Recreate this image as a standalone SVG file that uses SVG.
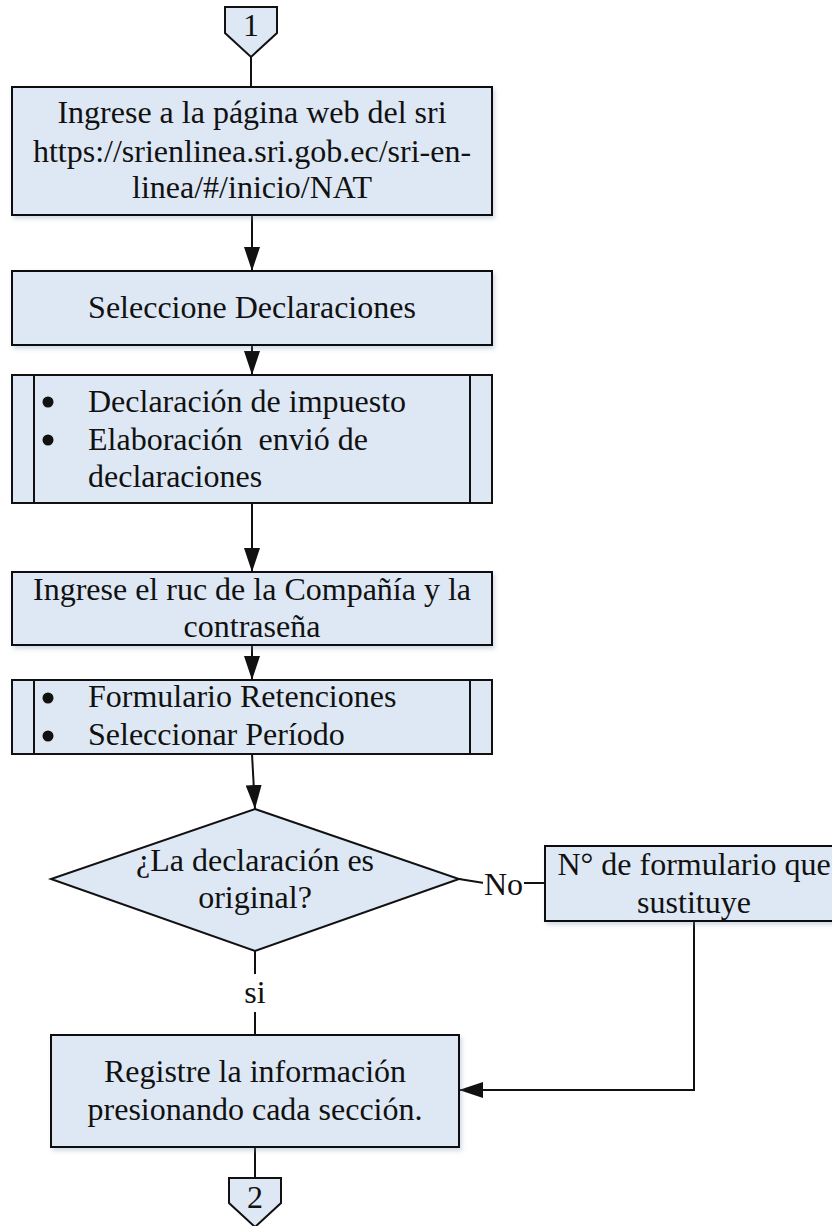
<svg xmlns="http://www.w3.org/2000/svg" width="832" height="1226" viewBox="0 0 832 1226">
  <style>
    .shape { fill: #dee8f4; stroke: #111; stroke-width: 2; }
    .bar { fill: none; stroke: #111; stroke-width: 2; }
    .dot { fill: #111; }
    .label { font-family: "Liberation Serif", "Times New Roman", serif; font-size: 32px; fill: #111; }
    .mid { text-anchor: middle; }
    .wire { fill: none; stroke: #111; stroke-width: 2; }
    .arrow { marker-end: url(#head); }
  </style>
  <defs>
    <marker id="head" viewBox="0 0 24 16" refX="24" refY="8" markerWidth="24" markerHeight="16" markerUnits="userSpaceOnUse" orient="auto">
      <path d="M0,0 L24,8 L0,16 z" fill="#111"/>
    </marker>
    <filter id="shade" x="-5%" y="-5%" width="112%" height="125%">
      <feDropShadow dx="2" dy="3" stdDeviation="2" flood-color="#7f98bb" flood-opacity="0.35"/>
    </filter>
  </defs>

  <rect width="832" height="1226" fill="#fff"/>

  <!-- connectors -->
  <g id="connectors">
    <path class="wire" d="M251,57 L251,87"/>
    <path class="wire arrow" d="M252,215 L252,271"/>
    <path class="wire arrow" d="M252,345 L252,375"/>
    <path class="wire arrow" d="M252,503 L252,572"/>
    <path class="wire arrow" d="M252,645 L252,680"/>
    <path class="wire arrow" d="M252,754 L255,809"/>
    <path class="wire" d="M459,879 L484,883 L545,883"/>
    <path class="wire" d="M255,951 L255,1035"/>
    <path class="wire arrow" d="M694,921 L694,1090 L459,1090"/>
    <path class="wire" d="M255,1147 L255,1178"/>
    <g id="label-no">
      <rect x="483" y="866" width="41" height="34" fill="#fff"/>
      <text class="label" x="484" y="895">No</text>
    </g>
    <g id="label-si">
      <rect x="243" y="974" width="24" height="38" fill="#fff"/>
      <text class="label mid" x="255" y="1003">si</text>
    </g>
  </g>

  <!-- off-page connector 1 -->
  <g id="off-page-1">
    <path class="shape" d="M225,7 L277,7 L277,33 L251,57 L225,33 z"/>
    <text class="label mid" x="251" y="36">1</text>
  </g>

  <!-- step: website -->
  <g id="step-web">
    <rect class="shape" x="12" y="87" width="480" height="128" filter="url(#shade)"/>
    <text class="label mid" x="252" y="123">Ingrese a la página web del sri</text>
    <text class="label mid" x="252" y="162">https://srienlinea.sri.gob.ec/sri-en-</text>
    <text class="label mid" x="252" y="198">linea/#/inicio/NAT</text>
  </g>

  <!-- step: select declarations -->
  <g id="step-select">
    <rect class="shape" x="12" y="271" width="480" height="74" filter="url(#shade)"/>
    <text class="label mid" x="252" y="318">Seleccione Declaraciones</text>
  </g>

  <!-- predefined process: tax declaration -->
  <g id="step-declaration">
    <rect class="shape" x="12" y="375" width="480" height="128"/>
    <path class="bar" d="M34,375 L34,503 M470,375 L470,503"/>
    <circle class="dot" cx="48" cy="402" r="5.5"/>
    <text class="label" x="88" y="412">Declaración de impuesto</text>
    <circle class="dot" cx="48" cy="440" r="5.5"/>
    <text class="label" x="88" y="450" xml:space="preserve">Elaboración  envió de</text>
    <text class="label" x="88" y="487">declaraciones</text>
  </g>

  <!-- step: credentials -->
  <g id="step-login">
    <rect class="shape" x="12" y="572" width="480" height="73" filter="url(#shade)"/>
    <text class="label mid" x="252" y="600">Ingrese el ruc de la Compañía y la</text>
    <text class="label mid" x="252" y="637">contraseña</text>
  </g>

  <!-- predefined process: form and period -->
  <g id="step-form">
    <rect class="shape" x="12" y="680" width="480" height="74"/>
    <path class="bar" d="M34,680 L34,754 M470,680 L470,754"/>
    <circle class="dot" cx="48" cy="698" r="5.5"/>
    <text class="label" x="88" y="707">Formulario Retenciones</text>
    <circle class="dot" cx="48" cy="736" r="5.5"/>
    <text class="label" x="88" y="745">Seleccionar Período</text>
  </g>

  <!-- decision -->
  <g id="decision-original">
    <path class="shape" d="M255,809 L459,879 L255,951 L51,879 z"/>
    <text class="label mid" x="255" y="871">¿La declaración es</text>
    <text class="label mid" x="255" y="908">original?</text>
  </g>

  <!-- step: replaced form number -->
  <g id="step-replace">
    <rect class="shape" x="545" y="846" width="298" height="75" filter="url(#shade)"/>
    <text class="label mid" x="694" y="875">N° de formulario que</text>
    <text class="label mid" x="694" y="913">sustituye</text>
  </g>

  <!-- step: register -->
  <g id="step-register">
    <rect class="shape" x="51" y="1035" width="408" height="112" filter="url(#shade)"/>
    <text class="label mid" x="255" y="1082">Registre la información</text>
    <text class="label mid" x="255" y="1120">presionando cada sección.</text>
  </g>

  <!-- off-page connector 2 -->
  <g id="off-page-2">
    <path class="shape" d="M229,1178 L281,1178 L281,1203 L255,1227 L229,1203 z"/>
    <text class="label mid" x="255" y="1208">2</text>
  </g>
</svg>
